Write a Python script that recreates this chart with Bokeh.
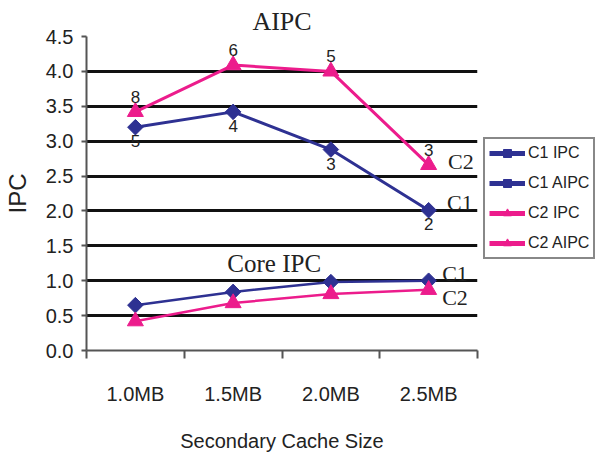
from bokeh.plotting import figure
from bokeh.models import (FixedTicker, Legend, LegendItem, Label, Range1d)
from bokeh.layouts import row
from bokeh.core.properties import value
from bokeh.embed import file_html
from bokeh.resources import INLINE
import math

categories = ["1.0MB", "1.5MB", "2.0MB", "2.5MB"]
c1_ipc = [0.65, 0.84, 0.98, 1.0]
c2_ipc = [0.42, 0.68, 0.81, 0.87]
c1_aipc = [3.2, 3.42, 2.88, 2.01]
c2_aipc = [3.42, 4.09, 4.0, 2.66]
c1_counts = ["5", "4", "3", "2"]
c2_counts = ["8", "6", "5", "3"]
y_ticks = [0.0, 0.5, 1.0, 1.5, 2.0, 2.5, 3.0, 3.5, 4.0, 4.5]
legend_labels = ["C1 IPC", "C1 AIPC", "C2 IPC", "C2 AIPC"]

NAVY = "#2E3192"
MAGENTA = "#EC1C8C"
SANS = "Liberation Sans"
SERIF = "Liberation Serif"

xs = [i + 0.5 for i in range(len(categories))]

p = figure(width=483, height=454, output_backend="svg", toolbar_location=None,
           x_range=Range1d(0, len(categories)), y_range=Range1d(0, 4.5),
           min_border_left=84, min_border_right=6, min_border_top=36, min_border_bottom=98)
p.outline_line_color = None
p.background_fill_color = "white"

p.title.text = "AIPC"
p.title.align = "center"
p.title.text_font = SERIF
p.title.text_font_size = "26px"
p.title.text_font_style = "normal"
p.title.text_color = "#222222"
p.title.standoff = 2
p.title.offset = 0

# axes
p.xaxis.ticker = FixedTicker(ticks=xs, minor_ticks=list(range(len(categories) + 1)))
p.xaxis.major_label_overrides = {x: c for x, c in zip(xs, categories)}
p.xaxis.major_tick_out = 0
p.xaxis.major_tick_in = 0
p.xaxis.minor_tick_out = 8
p.xaxis.minor_tick_in = 0
p.xaxis.minor_tick_line_color = "#555555"
p.xaxis.minor_tick_line_width = 2
p.xaxis.axis_line_color = "#555555"
p.xaxis.axis_line_width = 2
p.xaxis.major_label_standoff = 24
p.xaxis.major_label_text_font = SANS
p.xaxis.major_label_text_font_size = "20px"
p.xaxis.major_label_text_color = "#222222"
p.xaxis.axis_label = "Secondary Cache Size"
p.xaxis.axis_label_text_font = SANS
p.xaxis.axis_label_text_font_size = "20px"
p.xaxis.axis_label_text_font_style = "normal"
p.xaxis.axis_label_text_color = "#222222"
p.xaxis.axis_label_standoff = 22

p.yaxis.ticker = FixedTicker(ticks=y_ticks)
p.yaxis.major_label_overrides = {t: f"{t:.1f}" for t in y_ticks}
p.yaxis.minor_tick_line_color = None
p.yaxis.major_tick_out = 5
p.yaxis.major_tick_in = 0
p.yaxis.major_tick_line_color = "#555555"
p.yaxis.major_tick_line_width = 2
p.yaxis.axis_line_color = "#555555"
p.yaxis.axis_line_width = 2
p.yaxis.major_label_standoff = 8
p.yaxis.major_label_text_font = SANS
p.yaxis.major_label_text_font_size = "20px"
p.yaxis.major_label_text_color = "#222222"
p.yaxis.axis_label = "IPC"
p.yaxis.axis_label_text_font = SANS
p.yaxis.axis_label_text_font_size = "24px"
p.yaxis.axis_label_text_font_style = "normal"
p.yaxis.axis_label_text_color = "#222222"
p.yaxis.axis_label_standoff = 12

p.xgrid.grid_line_color = None
p.ygrid.grid_line_color = "#111111"
p.ygrid.grid_line_width = 3

# series
def series(vals, color, marker, lw, size, angle=0.0):
    p.line(xs, vals, line_color=color, line_width=lw)
    p.scatter(xs, vals, marker=marker, size=size, fill_color=color,
              line_color=color, angle=angle)

series(c1_ipc, NAVY, "square", 2.5, 11, math.pi / 4)
series(c2_ipc, MAGENTA, "triangle", 2.5, 16)
series(c1_aipc, NAVY, "square", 3, 11, math.pi / 4)
series(c2_aipc, MAGENTA, "triangle", 3, 16)

# count labels
p.text(xs, c2_aipc, text=c2_counts, text_font=value(SANS), text_font_size="17px",
       text_align="center", text_baseline="bottom", y_offset=-9, text_color="#222222")
p.text(xs, c1_aipc, text=c1_counts, text_font=value(SANS), text_font_size="17px",
       text_align="center", text_baseline="top", y_offset=8, text_color="#222222")

# annotations
def lab(x, y, t, size):
    p.add_layout(Label(x=x, y=y, text=t, text_font=SERIF, text_font_size=size,
                       text_align="center", text_baseline="middle", text_color="#222222"))

lab(1.92, 1.24, "Core IPC", "25px")
lab(3.83, 2.71, "C2", "22px")
lab(3.82, 2.12, "C1", "22px")
lab(3.77, 1.11, "C1", "22px")
lab(3.77, 0.76, "C2", "22px")

# legend panel (a second figure beside the chart)
lf = figure(width=113, height=454, output_backend="svg", toolbar_location=None,
            x_range=Range1d(0, 1), y_range=Range1d(0, 1),
            min_border_left=0, min_border_right=0, min_border_top=36, min_border_bottom=98)
lf.axis.visible = False
lf.grid.visible = False
lf.outline_line_color = None

styles = [(NAVY, "square", math.pi / 4, 11), (NAVY, "square", math.pi / 4, 11),
          (MAGENTA, "triangle", 0.0, 15), (MAGENTA, "triangle", 0.0, 15)]
items = []
for name, (color, marker, ang, size) in zip(legend_labels, styles):
    # proxy renderers placed outside the visible range, used only for the legend swatches
    rs = [lf.line([-5, -4], [-5, -4], line_color=color, line_width=5),
          lf.scatter([-5], [-5], marker=marker, size=size, fill_color=color,
                     line_color=color, angle=ang)]
    items.append(LegendItem(label=name, renderers=rs))

legend = Legend(items=items, location=(0, 91))
legend.border_line_color = "#111111"
legend.border_line_width = 2
legend.background_fill_color = "white"
legend.background_fill_alpha = 1
legend.label_text_font = SANS
legend.label_text_font_size = "16px"
legend.label_text_color = "#222222"
legend.glyph_width = 36
legend.glyph_height = 20
legend.label_height = 20
legend.spacing = 10
legend.padding = 4
legend.margin = 0
legend.label_standoff = 3
lf.add_layout(legend, "center")

layout = row(p, lf)
open("out.html", "w").write(file_html(layout, INLINE))
